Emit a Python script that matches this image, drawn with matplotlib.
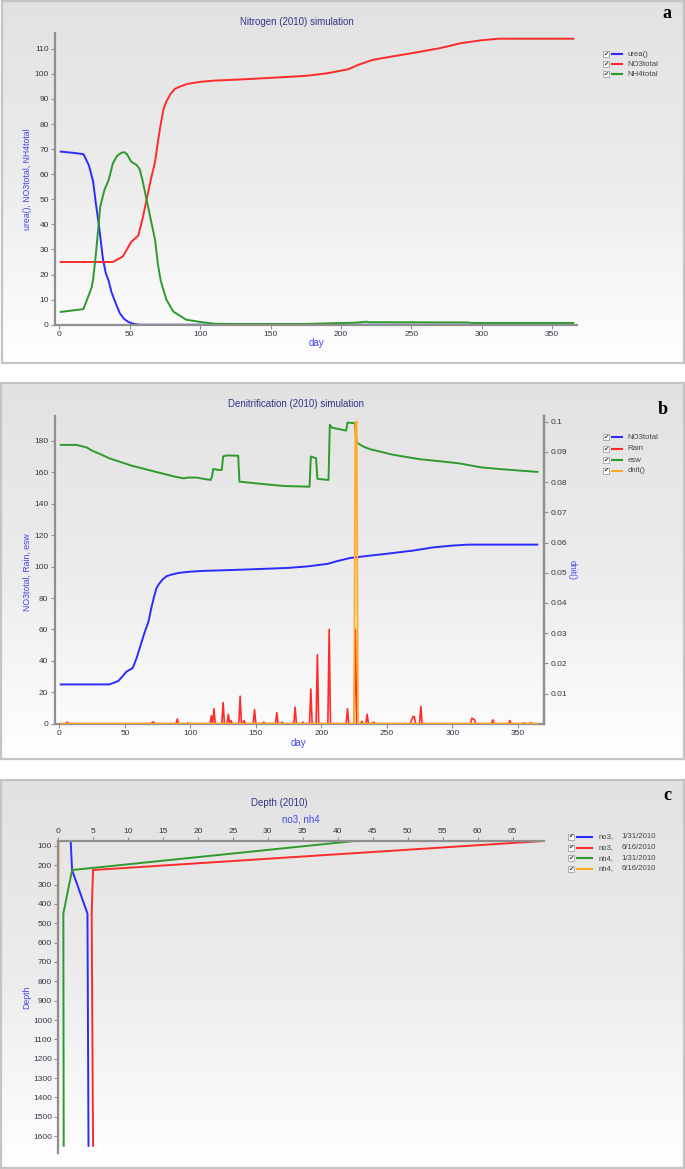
import numpy as np
import matplotlib.pyplot as plt
from matplotlib.lines import Line2D
from matplotlib.patches import Rectangle
from matplotlib.colors import LinearSegmentedColormap

W, H = 685, 1169

# ---------------- data ----------------
# panel a : Nitrogen (2010) simulation
urea_day = [1, 10, 17, 18, 21, 24, 26, 28, 29.5, 31, 33, 35, 37, 40, 43, 46, 49, 53, 57, 365]
urea = [69, 68.5, 68, 67, 63.5, 57, 48, 40, 33, 26, 20.5, 17.5, 13, 8.6, 4.5, 2.3, 1.1, 0.3, 0, 0]

no3_day = [1, 38, 42, 45, 48, 51, 53, 56, 59, 62, 65, 68, 70, 72, 74, 76, 79, 82, 86, 91,
           100, 110, 130, 150, 175, 190, 205, 212, 222, 235, 250, 270, 285, 300, 312, 365]
no3 = [25, 25, 26.2, 27.2, 30, 33, 34, 35.5, 42, 50, 58, 65, 73, 80, 86, 89, 92, 94, 95, 96,
       96.8, 97.3, 97.8, 98.4, 99.2, 100.2, 101.8, 103.5, 105.5, 106.8, 108.2, 110.2, 112.2, 113.4, 114, 114]

nh4_day = [1, 17, 20, 23, 24, 26, 29, 32, 35, 38, 41, 44, 46, 48, 51, 55, 57, 59, 62, 65, 68,
           70, 72, 76, 81, 90, 100, 110, 120, 175, 195, 210, 218, 220, 290, 293, 365]
nh4 = [5.1, 6.2, 10.5, 15, 18.2, 28.4, 47, 53.7, 57.7, 64.3, 67.3, 68.5, 68.8, 68, 65, 63.6, 62,
       57.7, 49.7, 41.7, 33.7, 24, 17.5, 10, 5.2, 2.0, 1.1, 0.4, 0.3, 0.3, 0.6, 0.8, 1.2, 1.0, 0.9, 0.7, 0.7]

# panel b : Denitrification (2010) simulation
esw_day = [1, 13, 21, 25, 31, 38, 55, 71, 88, 95, 98, 105, 112, 115.5, 116.5, 117.5, 121, 124, 125, 128,
           136.5, 137.5, 155, 172, 191, 192, 196, 197, 205.5, 206.5, 208, 219, 220, 225.5, 227, 232,
           237, 255, 275, 288, 305, 322, 338, 365]
esw = [177.5, 177.5, 175.8, 173.8, 171.7, 169, 164.3, 160.9, 157.3, 156.2, 156.7, 156.7, 155.6, 155.2,
       157.3, 162.2, 161.6, 161.6, 170.2, 170.8, 170.6, 154.1, 152.6, 151.3, 150.9, 170.1, 169, 155.9,
       155.2, 190.3, 188.5, 186.6, 191.7, 191.3, 179, 176.5, 174.8, 171.2, 168.4, 167.3, 165.8, 163.2,
       162, 160.3]

rain_day = [6, 71, 72, 90, 98, 116, 118, 125, 129, 131, 138, 141, 149, 156, 166, 170, 180, 186,
            192, 197, 206, 220, 226, 231, 235, 240, 269, 270, 271, 276, 315, 316, 317, 331, 344, 355, 360]
rain_mm = [1, 1, 1, 3, 0.5, 5, 9.5, 13.5, 6, 2, 17.5, 2, 9, 1, 7, 1, 10.5, 1,
           22, 44, 60, 9.5, 60, 1.5, 6, 1, 2.5, 4.5, 4.5, 11, 3.5, 3, 2.5, 2.5, 2, 0.5, 0.5]

dnit_day = [1, 225, 226, 227, 228, 365]
dnit = [0, 0, 0.1, 0.1, 0, 0]
dnit_ticks = [0.01, 0.02, 0.03, 0.04, 0.05, 0.06, 0.07, 0.08, 0.09, 0.1]
dnit_labels = ['0.01', '0.02', '0.03', '0.04', '0.05', '0.06', '0.07', '0.08', '0.09', '0.1']

# panel c : Depth (2010) profiles
depth = [75, 225, 450, 1650]
no3_jan = [1.8, 2.0, 4.2, 4.35]
no3_jun = [69.4, 5.0, 4.8, 5.0]
nh4_jan = [42.4, 2.0, 0.75, 0.8]
nh4_jun = [0.08, 0.06, 0.0, 0.0]

BLUE, RED, GREEN, ORANGE = '#2b2bff', '#ff2a2a', '#2e9a2e', '#ffaa22'
TITLE_C, LABEL_C, TICK_C = '#35358a', '#4646f0', '#353545'

plt.rcParams['font.family'] = ['Liberation Sans', 'DejaVu Sans']

fig = plt.figure(figsize=(W / 100, H / 100), dpi=100)


def fbox(x0, y0, x1, y1):
    return [x0 / W, 1 - y1 / H, (x1 - x0) / W, (y1 - y0) / H]


def fx(x):
    return x / W


def fy(y):
    return 1 - y / H


grey_cmap = LinearSegmentedColormap.from_list('g', ['#e2e2e2', '#ececec', '#ffffff'])


def panel_bg(x0, y0, x1, y1, letter, lx, ly):
    bg = fig.add_axes(fbox(x0, y0, x1, y1), zorder=-5)
    bg.imshow(np.linspace(0, 1, 256).reshape(-1, 1), aspect='auto', cmap=grey_cmap,
              extent=[0, 1, 0, 1])
    bg.set_xticks([])
    bg.set_yticks([])
    for s in bg.spines.values():
        s.set_color('#c4c4c4')
        s.set_linewidth(1.6)
    fig.text(fx(lx), fy(ly), letter, fontsize=13, fontweight='bold',
             family='Liberation Serif', ha='center', va='center')


def style(ax, sides):
    ax.set_facecolor('none')
    for s in ax.spines:
        ax.spines[s].set_visible(s in sides)
        ax.spines[s].set_color('#8f8f8f')
        ax.spines[s].set_linewidth(1.6)
    ax.tick_params(length=3, width=0.8, colors='#8f8f8f', labelcolor=TICK_C,
                   labelsize=6, pad=1.5)


def legend_rows(xc, ys, colors, labels, x_line=(6, 16), x_text=22, extra=None):
    for i, (y, c, lab) in enumerate(zip(ys, colors, labels)):
        fig.patches.append(Rectangle((fx(xc - 3), fy(y + 3)), 6 / W, 6 / H,
                                     transform=fig.transFigure, facecolor='white',
                                     edgecolor='#a0a0a0', lw=0.6))
        fig.text(fx(xc), fy(y), '\u2714', fontsize=4.5, family='DejaVu Sans',
                 ha='center', va='center', color='#202020')
        fig.add_artist(Line2D([fx(xc + x_line[0]), fx(xc + x_line[1])], [fy(y), fy(y)],
                              color=c, lw=1.5, transform=fig.transFigure))
        fig.text(fx(xc + x_text), fy(y), lab, fontsize=5.6, color='#454545',
                 ha='left', va='center')
        if extra is not None:
            fig.text(fx(extra[0]), fy(y), extra[1][i], fontsize=5.6, color='#454545',
                     ha='left', va='center')


# ---------------- panel a ----------------
panel_bg(1.7, 1, 684, 363.3, 'a', 667, 14)
axa = fig.add_axes(fbox(55, 32.7, 577.5, 324.7))
style(axa, ['left', 'bottom'])
axa.plot(urea_day, urea, color=BLUE, lw=1.4)
axa.plot(no3_day, no3, color=RED, lw=1.4)
axa.plot(nh4_day, nh4, color=GREEN, lw=1.4)
axa.set_xlim(-3.1, 368)
axa.set_ylim(0, 116.4)
axa.set_xticks(range(0, 351, 50))
axa.set_yticks(range(0, 111, 10))
fig.text(fx(297), fy(22.3), 'Nitrogen (2010) simulation', fontsize=7, color=TITLE_C,
         ha='center', va='center')
fig.text(fx(316), fy(343), 'day', fontsize=7, color=LABEL_C, ha='center', va='center')
fig.text(fx(27.5), fy(179), 'urea(), NO3total, NH4total', fontsize=6.3, color=LABEL_C,
         ha='center', va='center', rotation=90)
legend_rows(605.5, [54, 64, 74], [BLUE, RED, GREEN], ['urea()', 'NO3total', 'NH4total'])

# ---------------- panel b ----------------
panel_bg(1, 382.7, 684, 759, 'b', 662.7, 409.3)
axb = fig.add_axes(fbox(54.6, 416, 543.9, 723.7))
style(axb, ['left', 'bottom', 'right'])
rain_days = np.arange(1, 366)
rain = np.zeros(len(rain_days))
for d, v in zip(rain_day, rain_mm):
    rain[d - 1] = v
axb.plot(no3_day, no3, color=BLUE, lw=1.4)
axb.plot(rain_days, rain, color=RED, lw=1.2)
axb.plot(esw_day, esw, color=GREEN, lw=1.4)
axb.set_xlim(-3.7, 370)
axb.set_ylim(0, 195.9)
axb.set_xticks(range(0, 351, 50))
axb.set_yticks(range(0, 181, 20))
axb2 = axb.twinx()
style(axb2, ['right'])
axb2.plot(dnit_day, dnit, color=ORANGE, lw=1.3)
axb2.set_ylim(0, 0.10189)
axb2.set_yticks(dnit_ticks)
axb2.set_yticklabels(dnit_labels)
fig.text(fx(295.8), fy(404.3), 'Denitrification (2010) simulation', fontsize=7, color=TITLE_C,
         ha='center', va='center')
fig.text(fx(298.4), fy(743.3), 'day', fontsize=7, color=LABEL_C, ha='center', va='center')
fig.text(fx(27.5), fy(571.7), 'NO3total, Rain, esw', fontsize=6.3, color=LABEL_C,
         ha='center', va='center', rotation=90)
fig.text(fx(572), fy(570), 'dnit()', fontsize=6.3, color=LABEL_C,
         ha='center', va='center', rotation=270)
legend_rows(605.5, [437.3, 449, 460, 470.7], [BLUE, RED, GREEN, ORANGE],
            ['NO3total', 'Rain', 'esw', 'dnit()'])

# ---------------- panel c ----------------
panel_bg(1, 780.3, 684, 1168, 'c', 667, 795)
axc = fig.add_axes(fbox(58.1, 840.8, 544, 1153))
style(axc, ['left', 'top'])
axc.xaxis.tick_top()
axc.plot(no3_jan, depth, color=BLUE, lw=1.4)
axc.plot(no3_jun, depth, color=RED, lw=1.4)
axc.plot(nh4_jan, depth, color=GREEN, lw=1.4)
axc.plot(nh4_jun, depth, color=ORANGE, lw=1.4)
axc.set_xlim(0, 69.5)
axc.set_ylim(1687, 74)
axc.set_xticks(range(0, 66, 5))
axc.set_yticks(range(100, 1601, 100))
fig.text(fx(279.6), fy(802.7), 'Depth (2010)', fontsize=7, color=TITLE_C,
         ha='center', va='center')
fig.text(fx(300.6), fy(820), 'no3, nh4', fontsize=7, color=LABEL_C, ha='center', va='center')
fig.text(fx(27), fy(997), 'Depth', fontsize=6.3, color=LABEL_C, ha='center', va='center',
         rotation=90)
legend_rows(571.4, [836.7, 847.7, 858.3, 869], [BLUE, RED, GREEN, ORANGE],
            ['no3,', 'no3,', 'nh4,', 'nh4,'], x_line=(6, 21), x_text=27,
            extra=(621.2, ['1/31/2010', '6/16/2010', '1/31/2010', '6/16/2010']))

fig.savefig('out.png', dpi=100)
